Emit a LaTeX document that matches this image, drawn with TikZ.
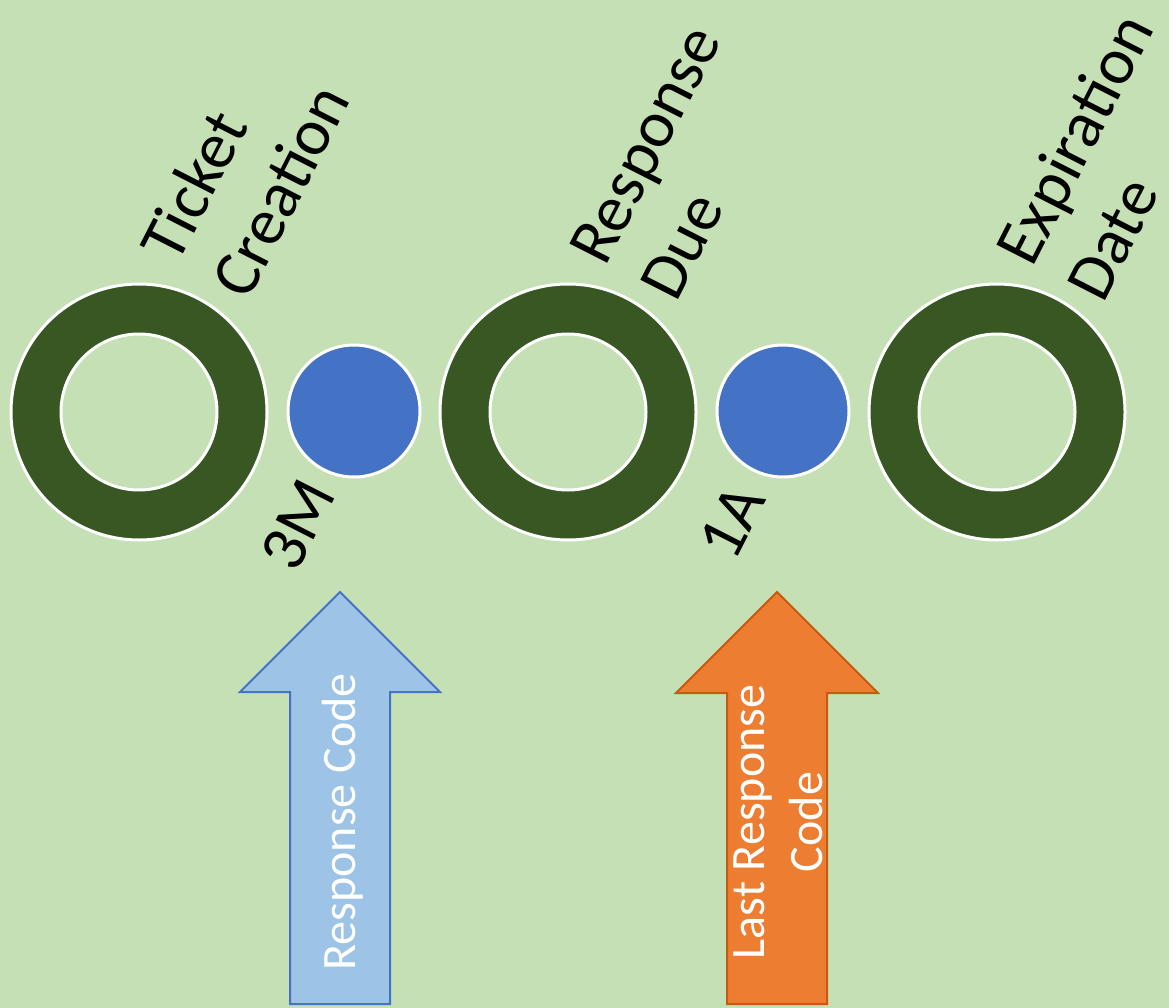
\documentclass[tikz,border=0pt]{standalone}
\usepackage{fontspec}
\setmainfont{Carlito}
\definecolor{bg}{HTML}{C5E0B4}
\definecolor{ringgreen}{HTML}{385723}
\definecolor{dotblue}{HTML}{4472C4}
\definecolor{lightblue}{HTML}{9DC3E6}
\definecolor{orangefill}{HTML}{ED7D31}
\definecolor{orangeline}{HTML}{C55A11}
\begin{document}
\begin{tikzpicture}[x=1pt,y=-1pt,
  biglabel/.style={rotate=63, align=left, inner sep=0pt, font=\fontsize{66}{79}\selectfont},
  codelabel/.style={rotate=63, inner sep=0pt, font=\fontsize{66}{79}\selectfont},
  arrowtext/.style={rotate=90, align=center, inner sep=0pt, text=white, font=\fontsize{48}{58}\selectfont},
  ringline/.style={white, line width=3pt},
  dotstyle/.style={fill=dotblue, draw=white, line width=3pt}]
\fill[bg] (0,0) rectangle (1169,1008);
\useasboundingbox (0,0) rectangle (1169,1008);
% rings
\foreach \cx/\nm in {139/ring1, 568/ring2, 997/ring3} {
  \coordinate (\nm) at (\cx,412);
  \fill[ringgreen, even odd rule] (\nm) circle (128pt) (\nm) circle (78pt);
  \draw[ringline] (\nm) circle (128pt) (\nm) circle (78pt);
}
% blue dots
\coordinate (dot1) at (354,411);
\coordinate (dot2) at (783,411);
\draw[dotstyle] (dot1) circle (66pt);
\draw[dotstyle] (dot2) circle (66pt);
% labels
\node[biglabel, anchor=base west] (tc) at (248,302) {Ticket\\Creation};
\node[biglabel, anchor=base west] (rd) at (676,304) {Response\\Due};
\node[biglabel, anchor=base west] (ed) at (1103,305) {Expiration\\Date};
\node[codelabel] (m3) at (298,525) {3M};
\node[codelabel] (a1) at (732,522) {1A};
% arrows
\draw[fill=lightblue, draw=dotblue, line width=2pt, line join=miter]
  (340,592) -- (440,692) -- (390,692) -- (390,1004) -- (290,1004) -- (290,692) -- (240,692) -- cycle;
\draw[fill=orangefill, draw=orangeline, line width=2pt, line join=miter]
  (777,592) -- (878,693) -- (827,693) -- (827,1004) -- (727,1004) -- (727,693) -- (676,693) -- cycle;
\node[arrowtext] (rc) at (343,822) {Response Code};
\node[arrowtext] (lrc) at (778,822) {Last Response\\Code};
\end{tikzpicture}
\end{document}
